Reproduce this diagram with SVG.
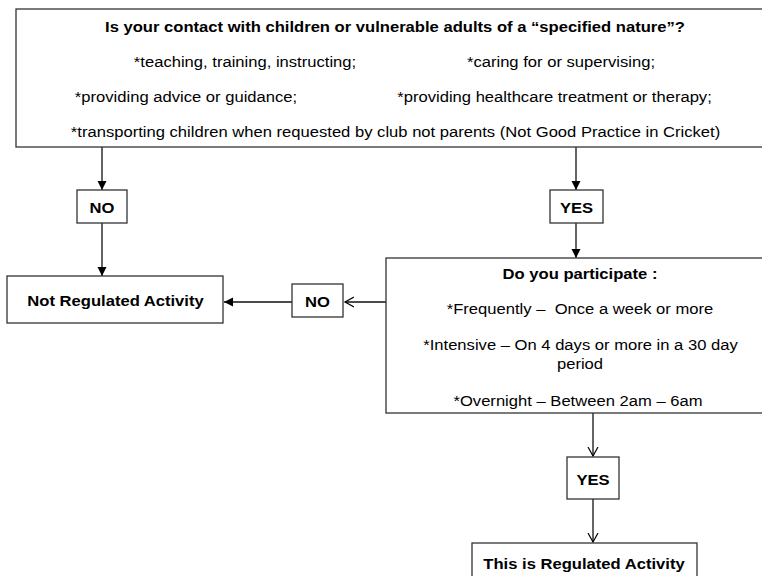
<svg xmlns="http://www.w3.org/2000/svg" width="762" height="576" viewBox="0 0 762 576">
<style>
  .box { fill: #fff; stroke: #333; stroke-width: 1.3; }
  .ln { fill: none; stroke: #111; stroke-width: 1.3; }
  text { font-family: "Liberation Sans", Arial, sans-serif; font-size: 14.5px; fill: #000; text-anchor: middle; }
  .b { font-weight: bold; }
  .pre { white-space: pre; }
</style>
<defs>
  <marker id="fa" markerWidth="10" markerHeight="10" refX="9" refY="5" orient="auto" markerUnits="userSpaceOnUse">
    <path d="M0,0.5 L9,5 L0,9.5 Z" fill="#000"/>
  </marker>
  <marker id="oa" markerWidth="12" markerHeight="12" refX="9" refY="6" orient="auto" markerUnits="userSpaceOnUse">
    <path d="M0,1 L9,6 L0,11" fill="none" stroke="#000" stroke-width="1.2"/>
  </marker>
</defs>
<rect width="762" height="576" fill="#fff"/>

<g id="connectors">
  <line class="ln" x1="102" y1="147" x2="102" y2="190" marker-end="url(#fa)"/>
  <line class="ln" x1="102" y1="223" x2="102" y2="276" marker-end="url(#fa)"/>
  <line class="ln" x1="576" y1="147" x2="576" y2="190" marker-end="url(#fa)"/>
  <line class="ln" x1="576" y1="223" x2="576" y2="258" marker-end="url(#fa)"/>
  <line class="ln" x1="386" y1="302" x2="345" y2="302" marker-end="url(#oa)"/>
  <line class="ln" x1="292" y1="302" x2="224" y2="302" marker-end="url(#fa)"/>
  <line class="ln" x1="593" y1="413" x2="593" y2="456" marker-end="url(#oa)"/>
  <line class="ln" x1="593" y1="499" x2="593" y2="542" marker-end="url(#oa)"/>
</g>

<g id="q1">
  <rect class="box" x="16" y="9" width="760" height="138"/>
  <text class="b" transform="translate(395 32) scale(1.145 1)">Is your contact with children or vulnerable adults of a “specified nature”?</text>
  <text transform="translate(245 67) scale(1.145 1)">*teaching, training, instructing;</text>
  <text transform="translate(561 67) scale(1.145 1)">*caring for or supervising;</text>
  <text transform="translate(186 102) scale(1.145 1)">*providing advice or guidance;</text>
  <text transform="translate(554.5 102) scale(1.145 1)">*providing healthcare treatment or therapy;</text>
  <text transform="translate(395.5 137) scale(1.145 1)">*transporting children when requested by club not parents (Not Good Practice in Cricket)</text>
</g>

<g id="no1">
  <rect class="box" x="77" y="190" width="50" height="33"/>
  <text class="b" transform="translate(102 213) scale(1.145 1)">NO</text>
</g>

<g id="yes1">
  <rect class="box" x="550" y="190" width="53" height="33"/>
  <text class="b" transform="translate(576.5 213) scale(1.145 1)">YES</text>
</g>

<g id="notreg">
  <rect class="box" x="7" y="276" width="216" height="47"/>
  <text class="b" transform="translate(115.5 306) scale(1.145 1)">Not Regulated Activity</text>
</g>

<g id="no2">
  <rect class="box" x="292" y="284" width="51" height="33"/>
  <text class="b" transform="translate(317.5 306.5) scale(1.145 1)">NO</text>
</g>

<g id="q2">
  <rect class="box" x="386" y="258" width="390" height="155"/>
  <text class="b" transform="translate(580 279) scale(1.145 1)">Do you participate :</text>
  <text class="pre" transform="translate(580 314) scale(1.145 1)">*Frequently –  Once a week or more</text>
  <text transform="translate(580.5 350) scale(1.145 1)">*Intensive – On 4 days or more in a 30 day</text>
  <text transform="translate(580 369) scale(1.145 1)">period</text>
  <text transform="translate(578 406) scale(1.145 1)">*Overnight – Between 2am – 6am</text>
</g>

<g id="yes2">
  <rect class="box" x="567" y="457" width="52" height="42"/>
  <text class="b" transform="translate(593 485) scale(1.145 1)">YES</text>
</g>

<g id="reg">
  <rect class="box" x="472" y="543" width="225" height="45"/>
  <text class="b" transform="translate(584 569) scale(1.145 1)">This is Regulated Activity</text>
</g>
</svg>
